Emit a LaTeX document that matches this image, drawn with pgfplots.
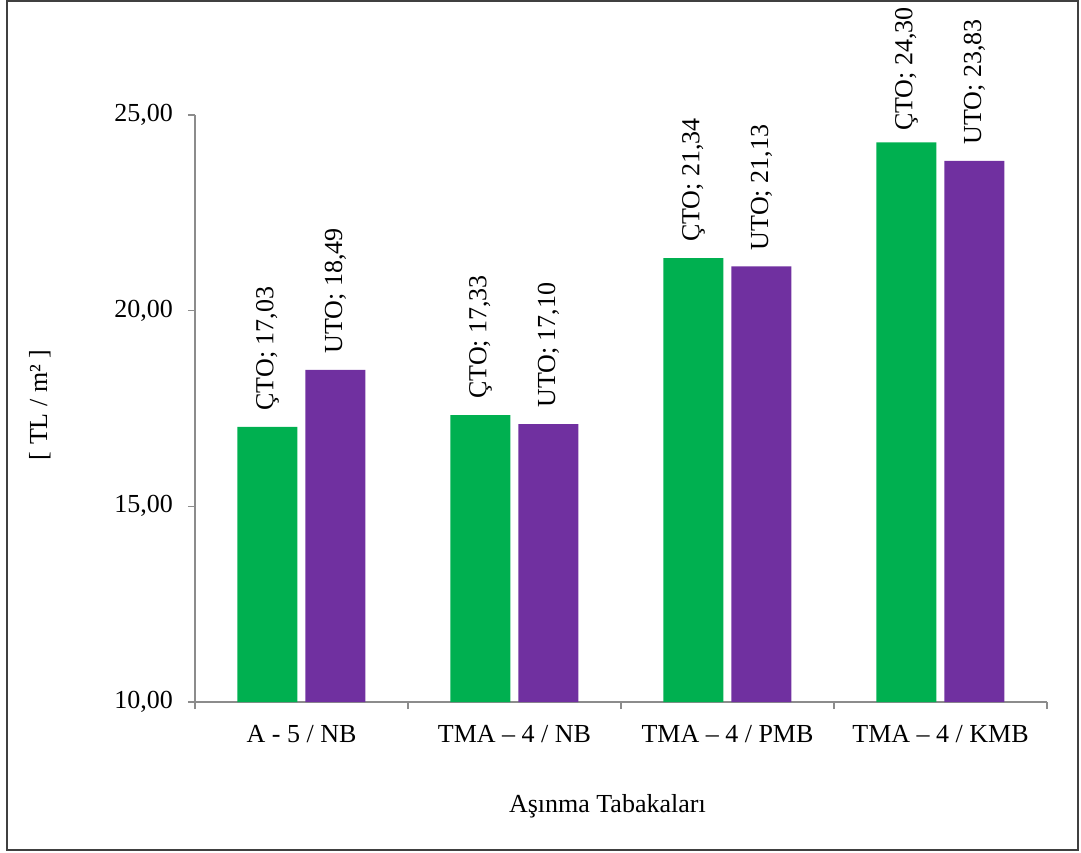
\documentclass[border=0pt]{standalone}
\usepackage{fontspec}
\setmainfont{Liberation Serif}
\usepackage{pgfplots}
\pgfplotsset{compat=1.18}
\definecolor{cto}{HTML}{00B050}
\definecolor{uto}{HTML}{7030A0}
\definecolor{axgray}{HTML}{8C8C8C}
\definecolor{framegray}{HTML}{404040}

\begin{document}
\fontsize{13pt}{15pt}\selectfont
\begin{tikzpicture}[font=\fontsize{13pt}{15pt}\selectfont]
% page extent and chart frame
\useasboundingbox (-97.5pt,-75pt) rectangle (443pt,351pt);
\draw[framegray, line width=1pt] (-94pt,-74pt) rectangle (441.5pt,350.5pt);
\begin{axis}[
  at={(0,0)}, anchor=south west,
  scale only axis, width=426pt, height=293.5pt,
  clip=false,
  ybar=4pt, bar width=30pt,
  xmin=-0.5, xmax=3.5, ymin=10, ymax=25,
  axis x line*=bottom, axis y line*=left,
  axis line style={axgray, line width=0.8pt},
  tick align=outside, major tick length=3.5pt,
  tick style={axgray, line width=0.8pt},
  ytick={10,15,20,25},
  /pgf/number format/.cd, use comma, fixed, fixed zerofill, precision=2, assume math mode=true,
  /pgfplots/.cd,
  yticklabel style={anchor=east, xshift=-3pt},
  xtick={-0.5,0.5,1.5,2.5,3.5}, xticklabels={},
  extra x ticks={0,1,2,3},
  extra x tick labels={A - 5 / NB, TMA – 4 / NB, TMA – 4 / PMB, TMA – 4 / KMB},
  extra x tick style={major tick length=0pt, xticklabel style={anchor=base, yshift=-20pt}},
  xlabel={Aşınma Tabakaları},
  xlabel style={at={(axis description cs:0.484,0)}, anchor=base, yshift=-55pt},
  ylabel={[ TL / m² ]},
  ylabel style={at={(axis description cs:-0.182,0.506)}, anchor=center, rotate=0},
  nodes near coords,
  every node near coord/.append style={rotate=90, anchor=west, inner sep=0pt, inner xsep=8pt, black},
]
% the tallest label is kept inside the frame
\addplot[fill=cto, draw=none,
  nodes near coords={ÇTO; \pgfmathprintnumber{\pgfplotspointmeta}},
  coordinate style/.condition={\coordindex==3}{yshift=-2.5pt}]
  coordinates {(0,17.03) (1,17.33) (2,21.34) (3,24.30)};
\addplot[fill=uto, draw=none,
  nodes near coords={UTO; \pgfmathprintnumber{\pgfplotspointmeta}}]
  coordinates {(0,18.49) (1,17.10) (2,21.13) (3,23.83)};
\end{axis}
\end{tikzpicture}
\end{document}
